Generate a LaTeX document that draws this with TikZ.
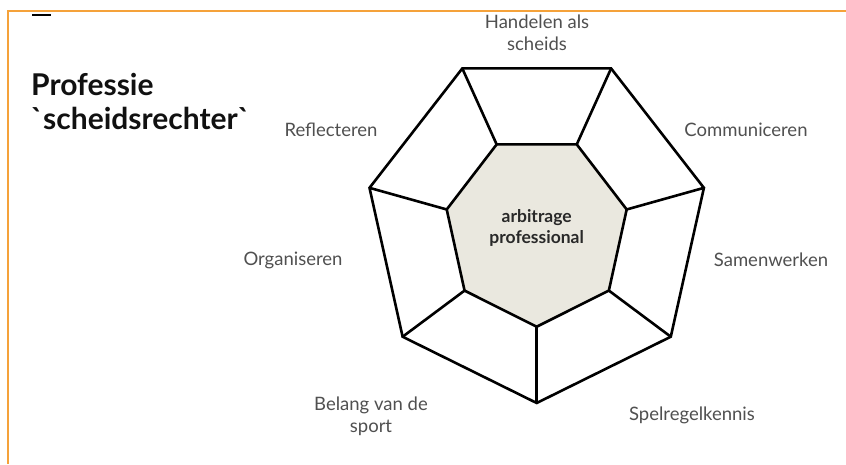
\documentclass[tikz,border=0pt]{standalone}
\usepackage{fontspec}
\setmainfont{Lato}
\definecolor{frameorange}{HTML}{F5A23A}
\definecolor{corefill}{HTML}{EAE8DF}
\definecolor{labelgray}{HTML}{505050}
\definecolor{titleblack}{HTML}{111111}
\begin{document}
\begin{tikzpicture}[x=1pt,y=-1pt,
  lab/.style={text=labelgray,font=\fontsize{18.5}{22}\selectfont,align=center,inner sep=0pt},
  corelab/.style={text=titleblack!90,font=\bfseries\fontsize{17.5}{21.5}\selectfont,align=center,inner sep=0pt},
  title/.style={text=titleblack,font=\bfseries\fontsize{30}{34}\selectfont,align=left,inner sep=0pt,anchor=north west},
  ring/.style={draw=black,line width=2.6pt,line join=miter},
  spoke/.style={draw=black,line width=2.6pt}]
\useasboundingbox (0,0) rectangle (846,464);
\fill[white] (0,0) rectangle (846,464);
% frame
\draw[frameorange,line width=2pt] (8,464) -- (8,11) -- (846,11);
\draw[black,line width=2.6pt] (32,15) -- (51,15);
% title
\node[title] (t) at (31,73) {Professie\\\textasciigrave scheidsrechter\textasciigrave};
% heptagon coordinates
\foreach \i in {0,...,6}{
  \pgfmathsetmacro\a{-90+\i*360/7}
  \coordinate (o\i) at ({536.7+171.5*cos(\a)},{227-176*sin(\a)});
  \coordinate (n\i) at ({536.7+92.3*cos(\a)},{230.8-95.9*sin(\a)});
}
\draw[ring] (o0) -- (o1) -- (o2) -- (o3) -- (o4) -- (o5) -- (o6) -- cycle;
\foreach \i in {0,...,6}{\draw[spoke] (o\i) -- (n\i);}
\draw[ring,fill=corefill] (n0) -- (n1) -- (n2) -- (n3) -- (n4) -- (n5) -- (n6) -- cycle;
\node[corelab] (core) at (536.7,228) {arbitrage\\professional};
% labels
\node[lab] (l1) at (537,33) {Handelen als\\scheids};
\node[lab] (l2) at (746,130) {Communiceren};
\node[lab] (l3) at (771,260) {Samenwerken};
\node[lab] (l4) at (692,415) {Spelregelkennis};
\node[lab] (l5) at (371,416) {Belang van de\\sport};
\node[lab] (l6) at (293,260) {Organiseren};
\node[lab] (l7) at (331,130) {Reflecteren};
\end{tikzpicture}
\end{document}
